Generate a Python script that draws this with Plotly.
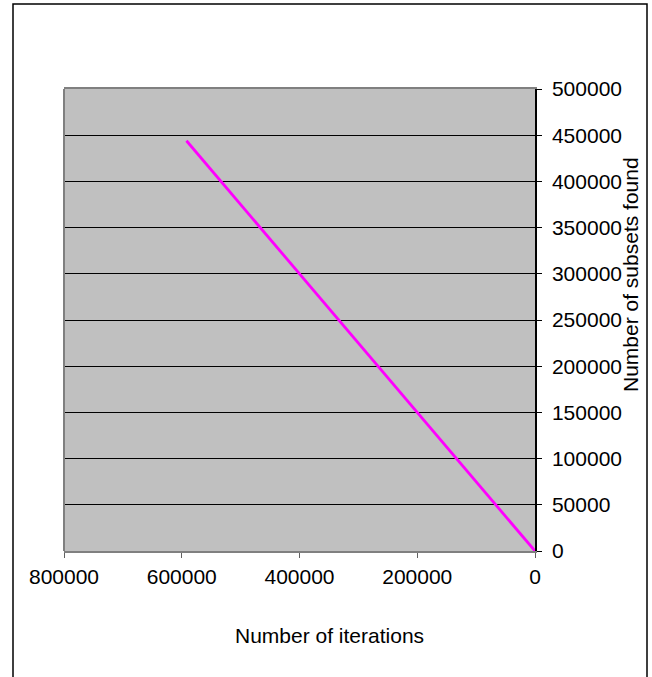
import plotly.graph_objects as go

# Data
iterations = [592000, 0]
subsets_found = [444000, 0]
x_title = "Number of iterations"
y_title = "Number of subsets found"

W, H = 652, 677
L, R, T, B = 64, 535, 89, 551  # plot area pixel bounds

def px_x(p):
    return (p - L) / (R - L)

def px_y(p):
    return (B - p) / (B - T)

fig = go.Figure()
fig.add_trace(go.Scatter(
    x=iterations, y=subsets_found, mode="lines",
    line=dict(color="#FF00FF", width=2.8), showlegend=False,
    hoverinfo="skip"))

font = dict(family="Liberation Sans, Arial, sans-serif", size=21, color="black")

fig.update_layout(
    width=W, height=H,
    margin=dict(l=L, r=W - R, t=T, b=H - B, pad=0),
    paper_bgcolor="white", plot_bgcolor="#C0C0C0",
    font=font,
    xaxis=dict(range=[800000, 0], tickvals=[800000, 600000, 400000, 200000, 0],
               tickformat="d", showgrid=False, zeroline=False,
               ticks="outside", ticklen=5, tickcolor="#606060", tickwidth=1,
               showline=True, linecolor="#808080", linewidth=2, mirror=True,
               ticklabelstandoff=1),
    yaxis=dict(range=[0, 500000], dtick=50000, tickformat="d", side="right",
               showgrid=True, gridcolor="black", gridwidth=1, zeroline=False,
               ticks="outside", ticklen=5, tickcolor="black", tickwidth=1,
               showline=True, linecolor="black", linewidth=1.5,
               ticklabelstandoff=6),
    shapes=[
        # left border of plot area (gray)
        dict(type="line", xref="paper", yref="paper", x0=0, x1=0, y0=0, y1=1,
             line=dict(color="#808080", width=2)),
        # outer chart frame
        dict(type="rect", xref="paper", yref="paper",
             x0=px_x(13), x1=px_x(647), y0=px_y(700), y1=px_y(4),
             line=dict(color="black", width=1.5), layer="below"),
    ],
    annotations=[
        dict(text=x_title, xref="paper", yref="paper", x=px_x(329), y=px_y(635),
             showarrow=False, font=font, xanchor="center", yanchor="middle"),
        dict(text=y_title, xref="paper", yref="paper", x=px_x(630), y=px_y(275),
             showarrow=False, font=font, textangle=-90,
             xanchor="center", yanchor="middle"),
    ],
)

fig.write_html(
    "out.html",
    config={"displayModeBar": False},
    post_script="document.body.style.margin='0';document.body.style.overflow='hidden';",
)
